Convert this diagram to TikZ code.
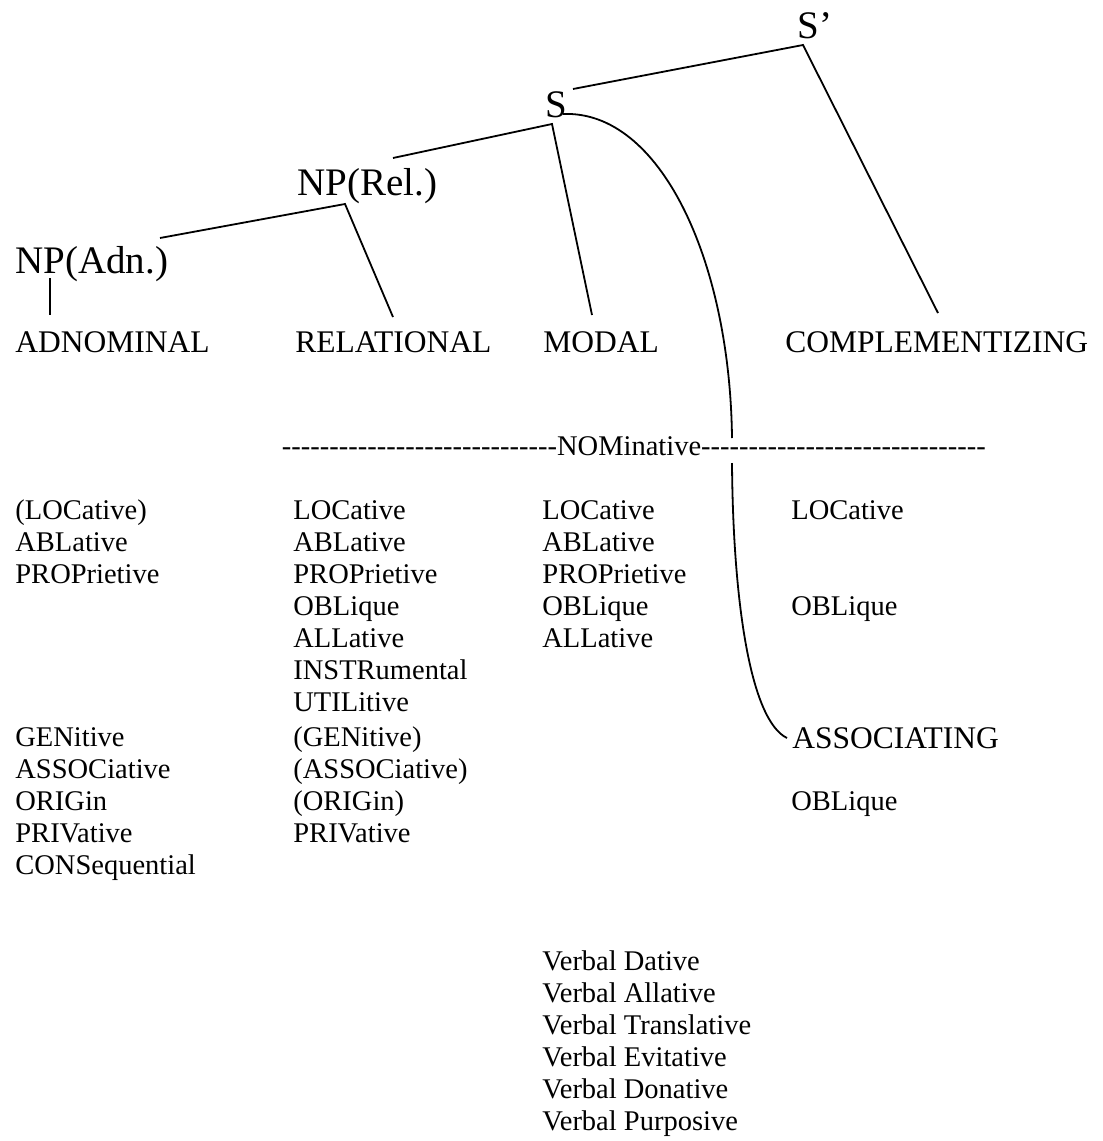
\documentclass[tikz,border=0pt]{standalone}
\usepackage{fontspec}
\setmainfont{Liberation Serif}
\newfontfamily\dashfont{Liberation Serif}
\begin{document}
\begin{tikzpicture}[x=0.5pt,y=-0.5pt,
  lbl/.style={anchor=base west,inner sep=0pt,font=\fontsize{15.75}{17}\selectfont},
  big/.style={anchor=base west,inner sep=0pt,font=\fontsize{19.5}{21}\selectfont},
  item/.style={anchor=base west,inner sep=0pt,font=\fontsize{14.25}{16}\selectfont},
  edge/.style={line width=0.9pt}]
\useasboundingbox (0,0) rectangle (1103,1141);
% tree labels
\node[big] (sprime) at (797,38) {S’};
\node[big] (s) at (545,117) {S};
\node[big] (nprel) at (297,195) {NP(Rel.)};
\node[big] (npadn) at (15,273) {NP(Adn.)};
\node[lbl] (adn) at (15,352) {ADNOMINAL};
\node[lbl] (rel) at (295,352) {RELATIONAL};
\node[lbl] (mod) at (543,352) {MODAL};
\node[lbl] (comp) at (785,352) {COMPLEMENTIZING};
\node[lbl] (assoc) at (792,748) {ASSOCIATING};
% nominative line
\node[item,font=\fontsize{14.25}{16}\dashfont] (nom) at (281.5,455) {-----------------------------NOMinative------------------------------};
% column A
\node[item] (a0) at (15,519) {(LOCative)};
\node[item] (a1) at (15,551) {ABLative};
\node[item] (a2) at (15,583) {PROPrietive};
\node[item] (a7) at (15,746) {GENitive};
\node[item] (a8) at (15,778) {ASSOCiative};
\node[item] (a9) at (15,810) {ORIGin};
\node[item] (a10) at (15,842) {PRIVative};
\node[item] (a11) at (15,874) {CONSequential};
% column B
\node[item] (b0) at (293,519) {LOCative};
\node[item] (b1) at (293,551) {ABLative};
\node[item] (b2) at (293,583) {PROPrietive};
\node[item] (b3) at (293,615) {OBLique};
\node[item] (b4) at (293,647) {ALLative};
\node[item] (b5) at (293,679) {INSTRumental};
\node[item] (b6) at (293,711) {UTILitive};
\node[item] (b7) at (293,746) {(GENitive)};
\node[item] (b8) at (293,778) {(ASSOCiative)};
\node[item] (b9) at (293,810) {(ORIGin)};
\node[item] (b10) at (293,842) {PRIVative};
% column C
\node[item] (c0) at (542,519) {LOCative};
\node[item] (c1n) at (542,551) {ABLative};
\node[item] (c2n) at (542,583) {PROPrietive};
\node[item] (c3) at (542,615) {OBLique};
\node[item] (c4) at (542,647) {ALLative};
% column D
\node[item] (d0) at (791,519) {LOCative};
\node[item] (d3) at (791,615) {OBLique};
\node[item] (d9) at (791,810) {OBLique};
% verbal
\node[item] (v0) at (542,970) {Verbal Dative};
\node[item] (v1) at (542,1002) {Verbal Allative};
\node[item] (v2) at (542,1034) {Verbal Translative};
\node[item] (v3) at (542,1066) {Verbal Evitative};
\node[item] (v4) at (542,1098) {Verbal Donative};
\node[item] (v5) at (542,1130) {Verbal Purposive};
% junction coordinates
\coordinate (spj) at (803,45);
\coordinate (sr) at (573,89);
\coordinate (sj) at (552,124);
\coordinate (nrr) at (393,158);
\coordinate (nrj) at (345,204);
\coordinate (nar) at (160,238);
\coordinate (naj) at (50,278);
\coordinate (adt) at (50,315);
\coordinate (relt) at (393,317);
\coordinate (modt) at (592,315);
\coordinate (compt) at (938,313);
\coordinate (cs) at (563,114);
\coordinate (cu) at (732,438);
\coordinate (cl) at (732,463);
\coordinate (ce) at (787,738);
% connectors
\draw[edge] (sr) -- (spj) -- (compt);
\draw[edge] (nrr) -- (sj) -- (modt);
\draw[edge] (nar) -- (nrj) -- (relt);
\draw[edge] (naj) -- (adt);
\draw[edge] (cs) .. controls (660,110) and (730,260) .. (cu);
\draw[edge] (cl) .. controls (733,600) and (750,720) .. (ce);
\end{tikzpicture}
\end{document}
